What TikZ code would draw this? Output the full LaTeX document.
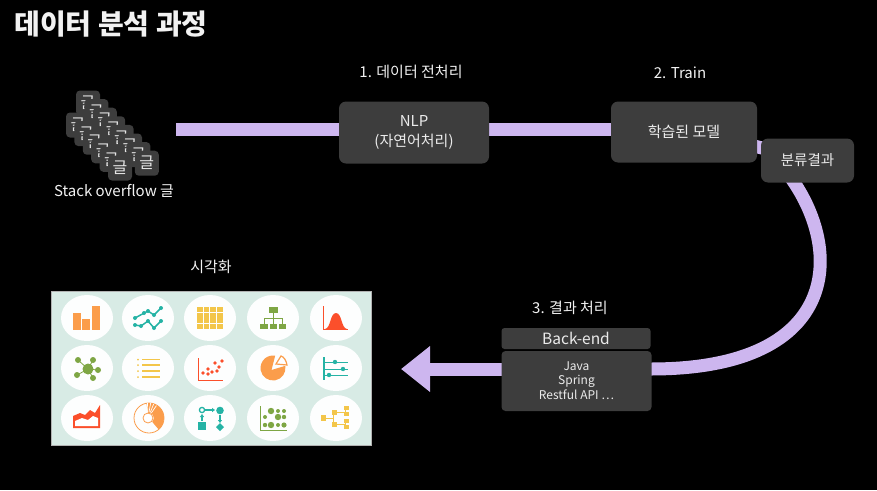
\documentclass[tikz,border=0pt]{standalone}
\usepackage{fontspec}
\setmainfont{Noto Sans CJK KR}
\usetikzlibrary{arrows.meta}
\definecolor{band}{HTML}{CDB6EF}
\definecolor{boxgray}{HTML}{3D3D3D}
\definecolor{panelbg}{HTML}{D8EBE5}
\definecolor{iconorange}{HTML}{FB9D4B}
\definecolor{iconteal}{HTML}{25B3A5}
\definecolor{iconyellow}{HTML}{F3C64A}
\definecolor{icongreen}{HTML}{7EA644}
\definecolor{iconred}{HTML}{FB4F2B}
\newcommand{\fs}[1]{\fontsize{#1}{#1}\selectfont}
\tikzset{
    flowline/.style={draw=band, line width=13pt},
    darkbox/.style={fill=boxgray, rounded corners=7pt, inner sep=0pt, text=white!92!black, align=center},
    label/.style={text=white!95!black, inner sep=0pt, align=center},
    glyphbox/.style={fill=boxgray, rounded corners=4pt, minimum width=24pt, minimum height=25pt, inner sep=0pt, text=white!90!black, font=\fs{16}},
}
\begin{document}
\begin{tikzpicture}[x=1pt,y=-1pt]
    \useasboundingbox (0,0) rectangle (877,490);
    \fill[black] (0,0) rectangle (877,490);

    % draw title and labels
    \node[label, font=\fs{28}\bfseries] (title) at (111,24) {데이터 분석 과정};
    \node[label, font=\fs{15}] (step1) at (411,72) {1. 데이터 전처리};
    \node[label, font=\fs{15}] (step2) at (680,73) {2. Train};
    \node[label, font=\fs{15}] (step3) at (570,308) {3. 결과 처리};
    \node[label, font=\fs{15}] (vislabel) at (211,267) {시각화};
    \node[label, font=\fs{15}] (stacklabel) at (114,191) {Stack overflow 글};

    % draw free ends
    \coordinate (stackend) at (176,129);
    \coordinate (nlpright) at (489,129);
    \coordinate (modelleft) at (611,129);
    \coordinate (modelright) at (750,145);
    \coordinate (resultleft) at (770,150);
    \coordinate (bendstart) at (785,170);
    \coordinate (backright) at (651,369);
    \coordinate (backleft) at (502,369);
    \coordinate (charttip) at (401,369);

    % draw connectors
    \draw[flowline] (stackend) -- (nlpright);
    \draw[flowline] (nlpright) -- (modelleft);
    \draw[flowline] (modelright) -- (resultleft);
    \draw[flowline] (bendstart) .. controls (845,245) and (845,369) .. (backright);
    \draw[flowline, -{Triangle[length=29pt,width=44pt]}] (backleft) -- (charttip);

    % draw boxes
    \node[darkbox, minimum width=150pt, minimum height=62pt, font=\fs{15}] (nlp) at (414,132.5) {NLP\\[5pt](자연어처리)};
    \node[darkbox, minimum width=146pt, minimum height=61pt, font=\fs{15}] (model) at (684,132) {학습된 모델};
    \node[darkbox, minimum width=93pt, minimum height=44pt, font=\fs{14.5}] (result) at (807.5,160.5) {분류결과};
    \node[darkbox, rounded corners=3pt, minimum width=149pt, minimum height=21pt, font=\fs{15.5}] (backend) at (576,338.5) {Back-end};
    \node[darkbox, rounded corners=4pt, minimum width=150pt, minimum height=60pt, font=\fs{12}] (stack) at (576.5,381) {Java\\[2pt]Spring\\[1pt]Restful API ⋯};

    % draw stack of posts
    \foreach \i in {0,...,7}
    \node[glyphbox] (a\i) at (88+8.4*\i,103+8.6*\i) {글};
    \foreach \i in {0,...,5}
    \node[glyphbox] (b\i) at (78+8.4*\i,125+8.6*\i) {글};

    % draw panel and icon backgrounds
    \node[fill=panelbg, draw=gray!60, line width=0.5pt, minimum width=320pt, minimum height=154pt, inner sep=0pt] (panel) at (211,368) {};
    \foreach \y in {318,368,418}
    \foreach \x in {87,148,210,273,336}
    \fill[white!96!panelbg] (\x,\y) ellipse (26 and 23);

    % bar chart
    \begin{scope}[shift={(87,318)}, iconorange]
        \fill (-14,-5) rectangle (-6,12);
        \fill (-5,1) rectangle (3,12);
        \fill (5,-12) rectangle (13,12);
    \end{scope}

    % line chart
    \begin{scope}[shift={(148,318)}, iconteal]
        \draw[line width=1.5pt] (-13,0) -- (0,-7) -- (6,-3) -- (13,-10);
        \draw[line width=1.5pt] (-13,7) -- (-7,8) -- (0,3) -- (6,10) -- (13,3);
        \foreach \p in {(-13,0),(-4,-5),(0,-7),(6,-3),(13,-10),(-13,7),(-7,8),(0,3),(6,10),(13,3)}
        \fill \p circle (2);
    \end{scope}

    % grid
    \begin{scope}[shift={(210,318)}, iconyellow]
        \foreach \i in {0,...,3}
        \foreach \j in {0,...,3}
        \fill (-13+6.6*\i,-11+5.7*\j) rectangle ++(5.8,4.9);
    \end{scope}

    % tree
    \begin{scope}[shift={(273,318)}, icongreen]
        \fill (-4.5,-11) rectangle (4.5,-5.5);
        \draw[line width=0.8pt] (0,-5.5) -- (0,5.5) (-9,5.5) -- (-9,0) -- (9,0) -- (9,5.5);
        \fill (-13,5.5) rectangle (-5,11);
        \fill (-3.5,5.5) rectangle (4,11);
        \fill (5.5,5.5) rectangle (13,11);
    \end{scope}

    % bell curve
    \begin{scope}[shift={(336,318)}, iconred]
        \draw[line width=1pt] (-13,-12) -- (-13,11) -- (12,11);
        \fill (-11,11) .. controls (-5,10) and (-6,-5) .. (0,-5) .. controls (6,-5) and (5,10) .. (11,11) -- cycle;
    \end{scope}

    % network
    \begin{scope}[shift={(87,368)}, icongreen]
        \foreach \p in {(-9,-8),(6,-8),(11,2),(6,10),(-10,7)}
        {\draw[line width=0.8pt] (1,1) -- \p; \fill \p circle (3);}
        \fill (1,1) circle (5.5);
    \end{scope}

    % list
    \begin{scope}[shift={(148,368)}, iconyellow]
        \foreach \y in {-8.5,-3,3,9}
        {\fill (-10,\y) circle (1); \draw[line width=1.1pt] (-6,\y) -- (12,\y);}
    \end{scope}

    % scatter
    \begin{scope}[shift={(210,368)}, iconred]
        \draw[line width=1pt] (-12,-10) -- (-12,12) -- (13,12);
        \foreach \p in {(12,-7),(5,-5),(9,-1),(2,4),(7,3),(-7,5),(-2,1),(-2,6)}
        \fill \p circle (1.9);
    \end{scope}

    % pie
    \begin{scope}[shift={(273,368)}, iconorange]
        \fill (-1.5,2) -- (-10:12.5) arc (-10:280:12.5) -- cycle;
        \draw[line width=1.2pt, fill=white] (3,-4) -- (8,-12) .. controls (11,-11) and (13,-8) .. (14,-3) -- cycle;
    \end{scope}

    % lollipop
    \begin{scope}[shift={(336,368)}, iconteal]
        \draw[line width=1.8pt] (-12,-11) -- (-12,12);
        \foreach \y/\d in {-6/-1,1/7,7/-7}
        {\draw[line width=0.7pt] (-11,\y) -- (12,\y); \fill (\d,\y) circle (2.2);}
    \end{scope}

    % area chart
    \begin{scope}[shift={(87,418)}, iconred]
        \fill (-14,-2) -- (-7,-5) -- (-2,-3) -- (3,-8) -- (8,-5) -- (13,-13) -- (13,10) -- (-14,10) -- cycle;
        \fill[white] (-12,8) -- (-12,3) -- (-5,0) -- (1,2) -- (6,-2) -- (11,0) -- (11,8) -- cycle;
    \end{scope}

    % donut
    \begin{scope}[shift={(148,418)}, iconorange]
        \draw[line width=0.8pt] (1,0) circle (15);
        \fill (1,0) ++(-100:15) arc (-100:50:15) -- ++(230:10) arc (50:-100:5) -- cycle;
        \fill[white] (0,0) circle (5);
        \draw[line width=0.8pt] (0,0) circle (5);
        \foreach \a in {-92,-80,-68,-56}
        \draw[white, line width=0.7pt] (\a:6) -- (\a:15);
    \end{scope}

    % flow
    \begin{scope}[shift={(210,418)}, iconteal]
        \draw[line width=1.3pt] (-8,-8) circle (2.6);
        \fill (-12,4) rectangle (-4,12);
        \draw[line width=1.2pt, -{Triangle[length=3pt,width=4pt]}] (-8,3) -- (-8,-4);
        \draw[line width=1.2pt, -{Triangle[length=3pt,width=4pt]}] (-5,-8) -- (5,-8);
        \fill (10,-7.5) circle (3.8);
        \draw[line width=1.2pt, -{Triangle[length=3pt,width=4pt]}] (10,-3) -- (10,5);
        \fill (10,5) -- (14,9) -- (10,13) -- (6,9) -- cycle;
    \end{scope}

    % dot matrix
    \begin{scope}[shift={(273,418)}, icongreen]
        \draw[line width=0.9pt] (-13,-12) -- (-13,12) -- (14,12);
        \foreach \x/\y/\r in {-2/-7/3.2,5/-7/2,11/-7/2,-8/-1/2,5/-1/3.2,11/-1/2.2,-8/7/2.2,-2/7/3.2,5/7/2,11/7/2.6}
        \fill (\x,\y) circle (\r);
    \end{scope}

    % org chart
    \begin{scope}[shift={(336,418)}, iconyellow]
        \draw[line width=0.7pt] (-11,0) -- (-3,0) (-3,-6) -- (-3,6) (-3,-6) -- (9,-6) (-3,6) -- (9,6) (9,-9) -- (9,-3) (9,3) -- (9,9);
        \fill (-15,-3) rectangle (-10,3);
        \fill (-4,-8.5) rectangle (1,-3.5);
        \fill (-4,3.5) rectangle (1,8.5);
        \foreach \y in {-10,-4,3,9}
        \fill (7.5,\y-2.3) rectangle (13,\y+2.3);
    \end{scope}
\end{tikzpicture}
\end{document}
